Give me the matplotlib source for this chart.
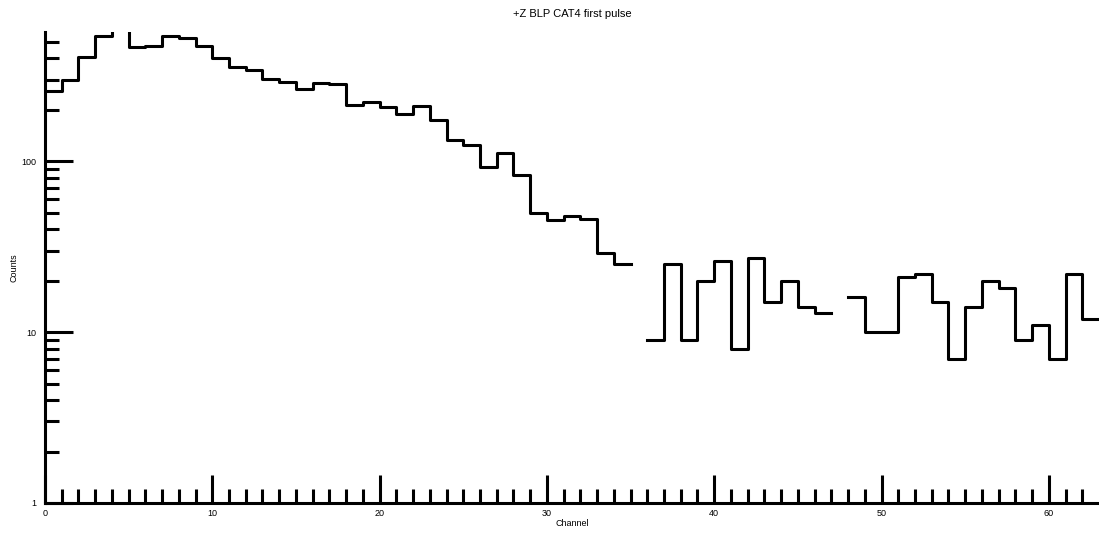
import numpy as np
import matplotlib
matplotlib.use('Agg')
import matplotlib.pyplot as plt
from matplotlib.ticker import MultipleLocator, LogLocator, FixedLocator, NullFormatter

plt.rcParams['font.family'] = ['Liberation Sans', 'DejaVu Sans']

# histogram contents, one per channel (0 means empty bin -> not drawn on log scale)
channels = np.arange(0, 64)
counts = [258, 300, 407, 538, 620, 466, 470, 541, 527, 469,
          403, 356, 341, 302, 289, 266, 285, 284, 214, 222,
          208, 190, 210, 174, 133, 124, 93, 112, 83, 50,
          45, 48, 46, 29, 25, 0, 9, 25, 9, 20,
          26, 8, 27, 15, 20, 14, 13, 0, 16, 10,
          10, 21, 22, 15, 7, 14, 20, 18, 9, 11,
          7, 22, 12]
title = '+Z BLP CAT4 first pulse'
xlabel = 'Channel'
ylabel = 'Counts'

edges = np.arange(0, len(counts) + 1)
y = np.array(counts + [counts[-1]], dtype=float)
y[y <= 0] = np.nan

fig = plt.figure(figsize=(10.99, 5.33), dpi=100)
ax = fig.add_axes([45 / 1099, 30 / 533, 1054 / 1099, 471 / 533])

ax.plot(edges, y, drawstyle='steps-post', color='black', lw=2.2)

ax.set_yscale('log')
ax.set_xlim(0, 63)
ax.set_ylim(1, 570)

for s in ['top', 'right']:
    ax.spines[s].set_visible(False)
for s in ['left', 'bottom']:
    ax.spines[s].set_linewidth(2.2)

ax.xaxis.set_major_locator(MultipleLocator(10))
ax.xaxis.set_minor_locator(FixedLocator([i for i in range(1, 63) if i % 10]))
ax.yaxis.set_major_locator(FixedLocator([1, 10, 100]))
ax.yaxis.set_major_formatter(plt.FixedFormatter(['1', '10', '100']))
ax.yaxis.set_minor_locator(LogLocator(base=10, subs=np.arange(2, 10)))
ax.yaxis.set_minor_formatter(NullFormatter())

ax.tick_params(which='both', direction='in', width=2.2, labelsize=6.5, color='black')
ax.tick_params(which='major', length=20)
ax.tick_params(which='minor', length=10)
ax.tick_params(axis='x', pad=4)
ax.tick_params(axis='y', pad=6)

ax.set_title(title, fontsize=8, pad=11)
ax.set_xlabel(xlabel, fontsize=6.5)
ax.set_ylabel(ylabel, fontsize=6.5)
ax.xaxis.set_label_coords(0.5, -0.033)
ax.yaxis.set_label_coords(-0.025, 0.5)

fig.savefig('out.png', dpi=100)
